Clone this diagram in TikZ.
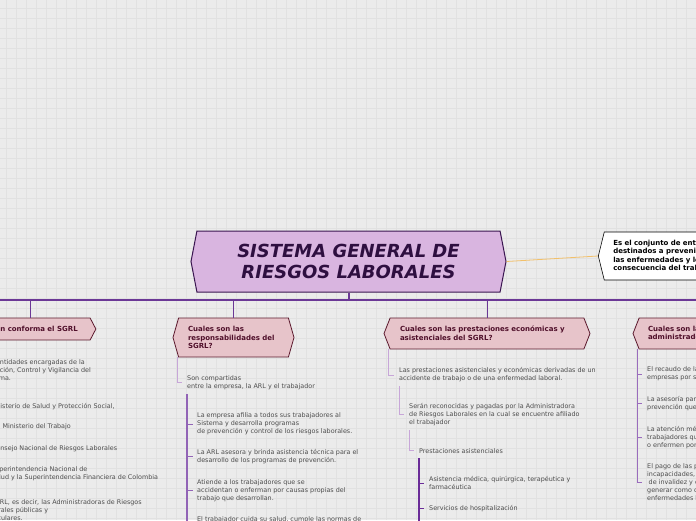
\documentclass[tikz,border=0pt]{standalone}
\usepackage{fontspec}
\setmainfont{DejaVu Sans}
\usetikzlibrary{shapes}
\definecolor{bgcol}{HTML}{EBEBEB}
\definecolor{gridcol}{HTML}{E1E1E1}
\definecolor{titlefill}{HTML}{D9B5E0}
\definecolor{titleline}{HTML}{3A1650}
\definecolor{titletext}{HTML}{2E0F40}
\definecolor{askfill}{HTML}{E7C4CA}
\definecolor{askline}{HTML}{5C1A2E}
\definecolor{asktext}{HTML}{4F0F2A}
\definecolor{leafcol}{HTML}{4D4D4D}
\definecolor{twigcol}{HTML}{C7A6D8}
\definecolor{stemA}{HTML}{9264B6}
\definecolor{stemB}{HTML}{6A2C98}
\definecolor{stemC}{HTML}{9A6CBD}
\definecolor{trunkcol}{HTML}{6B3896}
\definecolor{linkcol}{HTML}{F2C06A}
\tikzset{
    gridline/.style={draw=gridcol, line width=0.5pt},
    mainbox/.style={signal, signal to=west and east, signal pointer angle=158, draw=titleline, fill=titlefill, line width=1pt, minimum width=315, minimum height=61, align=center, text=titletext, font=\fontsize{18}{21}\selectfont\bfseries\itshape},
    notebox/.style={signal, signal to=west, signal pointer angle=152, draw=black, fill=white, line width=0.6pt, minimum height=48, inner xsep=9, text width=420, align=left, font=\bfseries\fontsize{7}{8.4}\selectfont},
    askbox/.style={signal, draw=askline, fill=askfill, line width=0.8pt, align=left, text=asktext, font=\bfseries\fontsize{7}{8.7}\selectfont},
    leaf/.style={anchor=west, inner sep=0, align=left, text=leafcol, font=\fontsize{6.4}{8}\selectfont},
    twig/.style={draw=twigcol, line width=0.7pt},
    trunk/.style={draw=trunkcol, line width=2pt},
    drop/.style={draw=trunkcol, line width=0.9pt},
    link/.style={draw=linkcol, line width=0.8pt}
}
\begin{document}
\begin{tikzpicture}[x=1pt, y=-1pt]
    % canvas and grid
    \useasboundingbox (0,0) rectangle (696,520);
    \clip (0,0) rectangle (696,520);
    \fill[bgcol] (0,0) rectangle (696,520);
    \foreach \gx in {6,16,...,696} \draw[gridline] (\gx,0) -- (\gx,520);
    \foreach \gy in {8,18,...,518} \draw[gridline] (0,\gy) -- (696,\gy);

    % centre topic and its definition
    \node[mainbox] (sgrl) at (348.5,261.5) {SISTEMA GENERAL DE\\RIESGOS LABORALES};
    \node[notebox, anchor=west] (def) at (598,256) {Es el conjunto de entidades públicas y privadas, normas y procedimientos,\\destinados a prevenir, proteger y atender a los trabajadores de los efectos de\\las enfermedades y los accidentes que puedan ocurrirles con ocasión o como\\consecuencia del trabajo que desarrollan.};
    \draw[link] (sgrl.east) -- (def.west);

    % trunk
    \coordinate (barL) at (-5,300);
    \coordinate (barR) at (701,300);
    \coordinate (floor) at (0,535);
    \draw[trunk] (sgrl.south) -- (sgrl.south |- barL);
    \draw[trunk] (barL) -- (barR);

    % questions
    \node[askbox, signal to=east, signal pointer angle=125, minimum width=126, minimum height=22] (who) at (30,329) {Quien conforma el SGRL};
    \node[askbox, signal to=west and east, signal pointer angle=148, minimum width=121, minimum height=39, text width=91] (resp) at (233.5,337.5) {Cuales son las\\responsabilidades del\\SGRL?};
    \node[askbox, signal to=west and east, signal pointer angle=137, minimum width=206, minimum height=31, text width=174] (prest) at (487,333.5) {Cuales son las prestaciones económicas y\\asistenciales del SGRL?};
    \node[askbox, signal to=west and east, signal pointer angle=137, minimum width=210, minimum height=31, text width=180] (func) at (738,333.5) {Cuales son las funciones de las\\administradoras de riesgos laborales?};
    \draw[drop] (who.north |- barL) -- (who.north);
    \draw[drop] (resp.north |- barL) -- (resp.north);
    \draw[drop] (prest.north |- barL) -- (prest.north);

    % who makes up the system
    \node[leaf] (who0) at (-17,370) {Las entidades encargadas de la\\Dirección, Control y Vigilancia del\\Sistema.};
    \node[leaf] (who1) at (-19,407) {El Ministerio de Salud y Protección Social,};
    \node[leaf] (who2) at (-5.5,427) {El Ministerio del Trabajo};
    \node[leaf] (who3) at (-16,449) {El Consejo Nacional de Riesgos Laborales};
    \node[leaf] (who4) at (-9,474) {Superintendencia Nacional de\\Salud y la Superintendencia Financiera de Colombia};
    \node[leaf, anchor=north west] (who5) at (-17.5,499) {Las ARL, es decir, las Administradoras de Riesgos\\Laborales públicas y\\particulares.};

    % responsibilities
    \node[leaf] (shared) at (187,382.5) {Son compartidas\\entre la empresa, la ARL y el trabajador};
    \node[leaf] (resp1) at (197,424) {La empresa afilia a todos sus trabajadores al\\Sistema y desarrolla programas\\de prevención y control de los riesgos laborales.};
    \node[leaf] (resp2) at (197,456.7) {La ARL asesora y brinda asistencia técnica  para el\\desarrollo de los programas de prevención.};
    \node[leaf] (resp3) at (197,490.7) {Atiende a los trabajadores que se\\accidentan o enferman por causas propias del\\trabajo que desarrollan.};
    \node[leaf] (resp4) at (197,523.3) {El trabajador cuida su salud, cumple las normas de\\seguridad y salud en el trabajo.};
    \draw[twig] ([xshift=-56.5]resp.south) |- ([xshift=-5]shared.west);
    \draw[draw=stemA, line width=1.2pt] ([yshift=-4]shared.south west) -- (shared.west |- floor);
    \foreach \r in {resp1,resp2,resp3,resp4}
        \draw[draw=stemA, line width=0.8pt] (shared.west |- \r.west) -- ([xshift=-4]\r.west);

    % benefits
    \node[leaf] (ben0) at (399,375) {Las prestaciones asistenciales y económicas derivadas de un\\accidente de trabajo o de una enfermedad laboral.};
    \node[leaf] (ben1) at (409,414.7) {Serán reconocidas y pagadas por la Administradora\\de Riesgos Laborales en la cual se encuentre afiliado\\el trabajador};
    \node[leaf] (ben2) at (419,450.7) {Prestaciones asistenciales};
    \node[leaf] (ben3) at (429,483.3) {Asistencia médica, quirúrgica, terapéutica y\\farmacéutica};
    \node[leaf] (ben4) at (429,508.7) {Servicios de hospitalización};
    \draw[twig] ([xshift=-98.7]prest.south) |- ([xshift=-5]ben0.west);
    \draw[twig] ([yshift=-4]ben0.south west) |- ([xshift=-5]ben1.west);
    \draw[twig] ([yshift=-4]ben1.south west) |- ([xshift=-5]ben2.west);
    \draw[draw=stemB, line width=1.5pt] ([yshift=-5]ben2.south west) -- (ben2.west |- floor);
    \foreach \b in {ben3,ben4}
        \draw[draw=stemB, line width=0.8pt] (ben2.west |- \b.west) -- ([xshift=-5]\b.west);

    % duties of the ARL
    \node[leaf] (duty1) at (647,374) {El recaudo de las cotizaciones a cargo de las\\empresas por sus trabajadores.};
    \node[leaf] (duty2) at (647,403.5) {La asesoría para los programas de\\prevención que deben desarrollar las empresas.};
    \node[leaf] (duty3) at (647,437.5) {La atención médica de los\\trabajadores que se accidenten\\o enfermen por causa del trabajo.};
    \node[leaf] (duty4) at (647,482) {El pago de las prestaciones económicas:\\incapacidades, indemnizaciones, pensiones\\\hspace*{1.5pt}de invalidez y de sobrevivientes que pueda\\generar como consecuencia de accidentes o\\enfermedades laborales.};
    \draw[draw=stemC, line width=1pt] ([xshift=-101]func.south) |- ([xshift=-5]duty4.west);
    \foreach \d in {duty1,duty2,duty3}
        \draw[draw=stemC, line width=0.8pt] ([xshift=-101]func.south |- \d.west) -- ([xshift=-5]\d.west);
\end{tikzpicture}
\end{document}
